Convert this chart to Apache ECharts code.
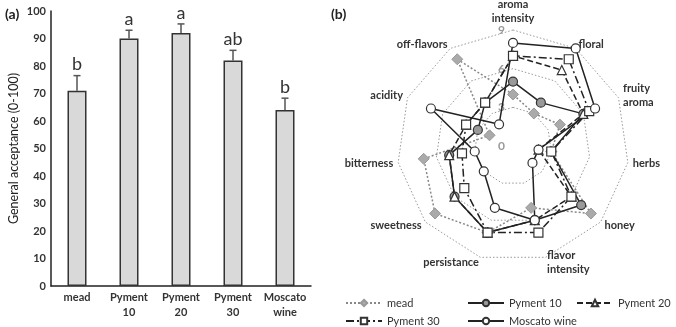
<!DOCTYPE html>
<html>
<head>
<meta charset="utf-8">
<script src="https://cdn.jsdelivr.net/npm/echarts@6/dist/echarts.min.js"></script>
<style>
  html, body { margin: 0; padding: 0; background: #fff; }
  #chart { width: 676px; height: 327px; }
</style>
</head>
<body>
<div id="chart"></div>
<script>
// (a) general acceptance
var wines = ['mead', 'Pyment\n10', 'Pyment\n20', 'Pyment\n30', 'Moscato\nwine'];
var acceptance = [71, 90, 92, 82, 64];
var acceptanceErr = [5.5, 3, 3.3, 3.7, 4.3];
var letters = ['b', 'a', 'a', 'ab', 'b'];

// (b) sensory profile, clockwise from the top
var attributes = ['aroma\nintensity', 'floral', 'fruity\naroma', 'herbs', 'honey', 'flavor\nintensity',
  'persistance', 'sweetness', 'bitterness', 'acidity', 'off-flavors'];
var mead = [4, 3, 4, 3, 8, 5, 7, 8, 7, 2, 8];
var pyment10 = [5, 4, 6, 3, 7, 6, 7, 6, 5, 3, 4];
var pyment20 = [7, 7, 6, 2, 6, 6, 7, 6, 5, 4, 4];
var pyment30 = [7, 8, 6.5, 3, 6, 7, 7, 5, 4, 4, 4];
var moscato = [8, 9, 7, 2, 2, 6, 5, 3, 3, 7, 2];

// echarts lays radar axes out counter-clockwise, flip so they run clockwise
function cw(arr) {
  return [arr[0]].concat(arr.slice(1).reverse());
}

var FONT = 'Lato';
var INK = '#222';

var profiles = [
  { name: 'mead', values: mead, symbol: 'diamond', size: 11,
    line: { color: '#888', type: [2, 2], width: 1.5 }, item: { color: '#aaa', borderColor: '#999', borderWidth: 1 } },
  { name: 'Pyment 10', values: pyment10, symbol: 'circle', size: 9,
    line: { color: INK, type: 'solid', width: 1.5 }, item: { color: '#999', borderColor: '#333', borderWidth: 1.2 } },
  { name: 'Pyment 20', values: pyment20, symbol: 'triangle', size: 9,
    line: { color: INK, type: [6, 3], width: 1.5 }, item: { color: '#fff', borderColor: '#333', borderWidth: 1.2 } },
  { name: 'Pyment 30', values: pyment30, symbol: 'rect', size: 9,
    line: { color: INK, type: [8, 3, 2, 3], width: 1.5 }, item: { color: '#fff', borderColor: '#333', borderWidth: 1.2 } },
  { name: 'Moscato wine', values: moscato, symbol: 'circle', size: 9,
    line: { color: INK, type: 'solid', width: 1.5 }, item: { color: '#fff', borderColor: '#333', borderWidth: 1.2 } }
];

var chart = echarts.init(document.getElementById('chart'), null, { renderer: 'canvas' });

// empty line series only so the legend gets line + marker icons
var legendSeries = profiles.map(function (p) {
  return {
    type: 'line', name: p.name, data: [], xAxisIndex: 0, yAxisIndex: 0,
    symbol: p.symbol, lineStyle: p.line, itemStyle: p.item
  };
});

function legendCol(left, names) {
  return {
    data: names, orient: 'vertical', left: left, top: 297, height: 40, padding: 0, itemGap: 6,
    itemWidth: 36, itemHeight: 8, selectedMode: false,
    textStyle: { fontFamily: FONT, fontSize: 11, color: '#333', lineHeight: 12 }
  };
}

var option = {
  backgroundColor: '#fff',
  animation: false,
  title: [
    { text: '(a)', left: 0, top: 2, textStyle: { fontFamily: FONT, fontSize: 14, fontWeight: 'bold', color: INK } },
    { text: '(b)', left: 326, top: 2, textStyle: { fontFamily: FONT, fontSize: 14, fontWeight: 'bold', color: INK } }
  ],
  legend: [
    legendCol(345, ['mead', 'Pyment 30']),
    legendCol(467, ['Pyment 10', 'Moscato wine']),
    legendCol(576, ['Pyment 20'])
  ],
  grid: { left: 51, right: 365, top: 11, bottom: 41 },
  xAxis: {
    type: 'category', data: wines,
    axisLine: { lineStyle: { color: INK, width: 1.5 } },
    axisTick: { show: false },
    axisLabel: { interval: 0, fontFamily: FONT, fontSize: 11, fontWeight: 'bold', color: '#333', lineHeight: 15, margin: 4 }
  },
  yAxis: {
    type: 'value', min: 0, max: 100, interval: 10,
    name: 'General acceptance (0-100)', nameLocation: 'middle', nameGap: 31,
    nameTextStyle: { fontFamily: FONT, fontSize: 12.5, color: INK },
    axisLine: { show: true, lineStyle: { color: INK, width: 1.5 } },
    axisTick: { show: false },
    splitLine: { show: false },
    axisLabel: { fontFamily: FONT, fontSize: 11, fontWeight: 'bold', color: '#333', margin: 5 }
  },
  radar: {
    center: [513, 146], radius: 116, startAngle: 90, splitNumber: 3, shape: 'polygon',
    indicator: cw(attributes).map(function (a) { return { name: a, min: 0, max: 9 }; }),
    nameGap: 5,
    axisName: { fontFamily: FONT, fontSize: 11, fontWeight: 'bold', color: '#333', lineHeight: 14 },
    axisLine: { show: false },
    axisTick: { show: false },
    axisLabel: { show: false },
    splitArea: { show: false },
    splitLine: { lineStyle: { color: '#999', type: [1.5, 2], width: 1 } }
  },
  // polar only carries the 0-3-6-9 ring labels on the top axis
  polar: { center: [513, 146], radius: 116 },
  angleAxis: { show: false, startAngle: 90, min: 0, max: 360 },
  radiusAxis: {
    min: 0, max: 9, interval: 3,
    axisLine: { show: false }, axisTick: { show: false }, splitLine: { show: false },
    axisLabel: { fontFamily: FONT, fontSize: 12, fontWeight: 'bold', color: '#999', margin: 8 }
  },
  series: legendSeries.concat([
    {
      type: 'bar', data: acceptance, barWidth: 19,
      itemStyle: { color: '#d9d9d9', borderColor: '#333', borderWidth: 1.5 },
      z: 3
    },
    {
      type: 'custom', z: 2,
      data: acceptance.map(function (v, i) { return [i, v, acceptanceErr[i]]; }),
      renderItem: function (params, api) {
        var i = api.value(0);
        var base = api.coord([i, api.value(1)]);
        var top = api.coord([i, api.value(1) + api.value(2)]);
        var cap = 3.5;
        var st = { stroke: '#555', lineWidth: 1.5 };
        return {
          type: 'group',
          children: [
            { type: 'line', shape: { x1: top[0], y1: base[1], x2: top[0], y2: top[1] }, style: st },
            { type: 'line', shape: { x1: top[0] - cap, y1: top[1], x2: top[0] + cap, y2: top[1] }, style: st },
            { type: 'text', x: top[0], y: top[1] - 2,
              style: { text: letters[params.dataIndex], textAlign: 'center', textVerticalAlign: 'bottom',
                fontFamily: FONT, fontSize: 18, fill: '#333' } }
          ]
        };
      }
    }
  ], profiles.map(function (p) {
    return {
      type: 'radar', name: p.name, z: 4,
      symbol: p.symbol, symbolSize: p.size,
      lineStyle: p.line, itemStyle: p.item,
      data: [{ name: p.name, value: cw(p.values) }]
    };
  }))
};

chart.setOption(option);
</script>
</body>
</html>
